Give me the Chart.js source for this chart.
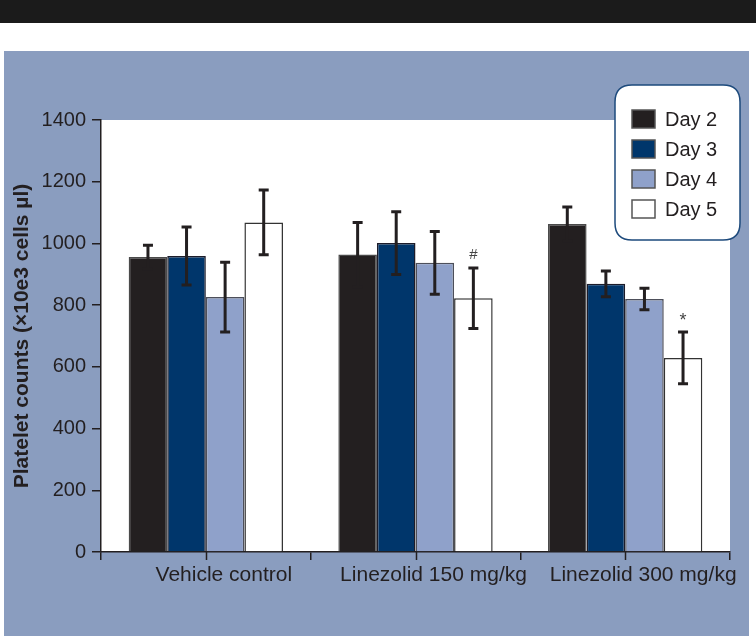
<!DOCTYPE html>
<html>
<head>
<meta charset="utf-8">
<script src="https://cdn.jsdelivr.net/npm/chart.js@4/dist/chart.umd.min.js"></script>
<style>
  html, body { margin: 0; padding: 0; background: #ffffff; }
  #wrap { position: relative; width: 756px; height: 636px; }
  canvas { display: block; }
</style>
</head>
<body>
<div id="wrap"><canvas id="c" width="756" height="636"></canvas></div>
<script>
// ---- data ----
const categories = ['Vehicle control', 'Linezolid 150 mg/kg', 'Linezolid 300 mg/kg'];
const seriesNames = ['Day 2', 'Day 3', 'Day 4', 'Day 5'];
const day2 = [956, 964, 1063];
const day3 = [959, 1001, 869];
const day4 = [826, 937, 820];
const day5 = [1068, 822, 629];
const err2 = [38, 104, 55];
const err3 = [94, 102, 42];
const err4 = [113, 102, 35];
const err5 = [105, 98, 84];
const day5Marks = ['', '#', '*'];
const yTickMin = 0, yTickMax = 1400, yTickStep = 200;

const fills = ['#231f20', '#00366b', '#8fa1ca', '#ffffff'];
const borders = ['#4a4a4a', '#1c1c2a', '#4d4f5a', '#333333'];
const values = [day2, day3, day4, day5];
const errors = [err2, err3, err4, err5];
const marks = [null, null, null, day5Marks];
const TXT = '#231f20';
const FONT = '"Liberation Sans", Arial, Helvetica, sans-serif';

const backgroundPlugin = {
  id: 'bg',
  beforeDraw(chart) {
    const ctx = chart.ctx;
    const W = chart.width, H = chart.height;
    ctx.save();
    ctx.fillStyle = '#ffffff';
    ctx.fillRect(0, 0, W, H);
    ctx.fillStyle = '#1b1b1b';
    ctx.fillRect(0, 0, W, 23);
    ctx.fillStyle = '#8a9dbf';
    ctx.fillRect(4, 51, 745, H - 51);
    const a = chart.chartArea;
    ctx.fillStyle = '#ffffff';
    ctx.fillRect(a.left, a.top, a.right - a.left, a.bottom - a.top);
    ctx.restore();
  }
};

const errorBarPlugin = {
  id: 'errbars',
  afterDatasetsDraw(chart) {
    const ctx = chart.ctx;
    const y = chart.scales.y;
    ctx.save();
    ctx.strokeStyle = '#231f20';
    ctx.lineWidth = 3;
    chart.data.datasets.forEach((ds, i) => {
      const meta = chart.getDatasetMeta(i);
      meta.data.forEach((el, j) => {
        const v = ds.data[j], e = errors[i][j];
        const yt = y.getPixelForValue(v + e);
        const yb = y.getPixelForValue(v - e);
        const x = el.x;
        ctx.beginPath();
        ctx.moveTo(x, yt); ctx.lineTo(x, yb);
        ctx.moveTo(x - 5, yt); ctx.lineTo(x + 5, yt);
        ctx.moveTo(x - 5, yb); ctx.lineTo(x + 5, yb);
        ctx.stroke();
        if (marks[i] && marks[i][j]) {
          ctx.fillStyle = '#444444';
          ctx.font = (marks[i][j] === '*' ? '18px ' : '15px ') + FONT;
          ctx.textAlign = 'center';
          ctx.textBaseline = 'alphabetic';
          ctx.fillText(marks[i][j], x, yt - (marks[i][j] === '*' ? 6 : 9));
        }
      });
    });
    ctx.restore();
  }
};

const extraTicksPlugin = {
  id: 'xcenterticks',
  afterDraw(chart) {
    const ctx = chart.ctx;
    const xs = chart.scales.x;
    const bottom = chart.chartArea.bottom;
    ctx.save();
    ctx.strokeStyle = TXT;
    ctx.lineWidth = 1.5;
    categories.forEach((c, i) => {
      const x = Math.round(xs.getPixelForValue(i)) + 0.5;
      ctx.beginPath();
      ctx.moveTo(x, bottom);
      ctx.lineTo(x, bottom + 8);
      ctx.stroke();
    });
    ctx.restore();
  }
};

const legendPlugin = {
  id: 'boxlegend',
  afterDraw(chart) {
    const ctx = chart.ctx;
    const bx = 615, by = 85, bw = 125, bh = 155, r = 17;
    ctx.save();
    ctx.beginPath();
    ctx.moveTo(bx + r, by);
    ctx.lineTo(bx + bw - r, by);
    ctx.quadraticCurveTo(bx + bw, by, bx + bw, by + r);
    ctx.lineTo(bx + bw, by + bh - r);
    ctx.quadraticCurveTo(bx + bw, by + bh, bx + bw - r, by + bh);
    ctx.lineTo(bx + r, by + bh);
    ctx.quadraticCurveTo(bx, by + bh, bx, by + bh - r);
    ctx.lineTo(bx, by + r);
    ctx.quadraticCurveTo(bx, by, bx + r, by);
    ctx.closePath();
    ctx.fillStyle = '#ffffff';
    ctx.fill();
    ctx.strokeStyle = '#1d4a7c';
    ctx.lineWidth = 1.5;
    ctx.stroke();
    ctx.font = '20px ' + FONT;
    ctx.textBaseline = 'middle';
    ctx.textAlign = 'left';
    chart.data.datasets.forEach((ds, i) => {
      const cy = 119 + i * 30;
      ctx.fillStyle = ds.backgroundColor;
      ctx.fillRect(632, cy - 9, 23, 18);
      ctx.strokeStyle = '#555555';
      ctx.lineWidth = 1.5;
      ctx.strokeRect(632, cy - 9, 23, 18);
      ctx.fillStyle = TXT;
      ctx.fillText(ds.label, 665, cy + 1);
    });
    ctx.restore();
  }
};

const datasets = seriesNames.map((name, i) => ({
  label: name,
  data: values[i],
  backgroundColor: fills[i],
  borderColor: borders[i],
  borderWidth: 1.5,
  borderSkipped: 'bottom',
  barPercentage: 1.0,
  categoryPercentage: 0.736
}));

new Chart(document.getElementById('c'), {
  type: 'bar',
  data: { labels: categories, datasets },
  options: {
    responsive: false,
    animation: false,
    events: [],
    layout: { padding: { top: 120, right: 26, left: 0, bottom: 0 } },
    plugins: { legend: { display: false }, tooltip: { enabled: false }, title: { display: false } },
    scales: {
      x: {
        offset: true,
        afterFit(s) { s.height = 84; },
        grid: { offset: true, drawOnChartArea: false, drawTicks: true, tickLength: 8, color: TXT, lineWidth: 1.5 },
        border: { color: TXT, width: 1.5 },
        ticks: { color: TXT, font: { family: FONT, size: 21 }, padding: 3, labelOffset: 18, maxRotation: 0, autoSkip: false }
      },
      y: {
        min: yTickMin, max: yTickMax,
        afterFit(s) { s.width = 101; },
        grid: { drawOnChartArea: false, drawTicks: true, tickLength: 9, color: TXT, lineWidth: 1.5 },
        border: { color: TXT, width: 1.5 },
        ticks: { stepSize: yTickStep, color: TXT, font: { family: FONT, size: 20 }, padding: 6,
                 callback: (v) => String(v) },
        title: { display: true, text: 'Platelet counts (×10e3 cells µl)', color: TXT,
                 font: { family: FONT, size: 21, weight: 'bold' }, padding: { top: 10, bottom: 0 } }
      }
    }
  },
  plugins: [backgroundPlugin, errorBarPlugin, extraTicksPlugin, legendPlugin]
});
</script>
</body>
</html>
